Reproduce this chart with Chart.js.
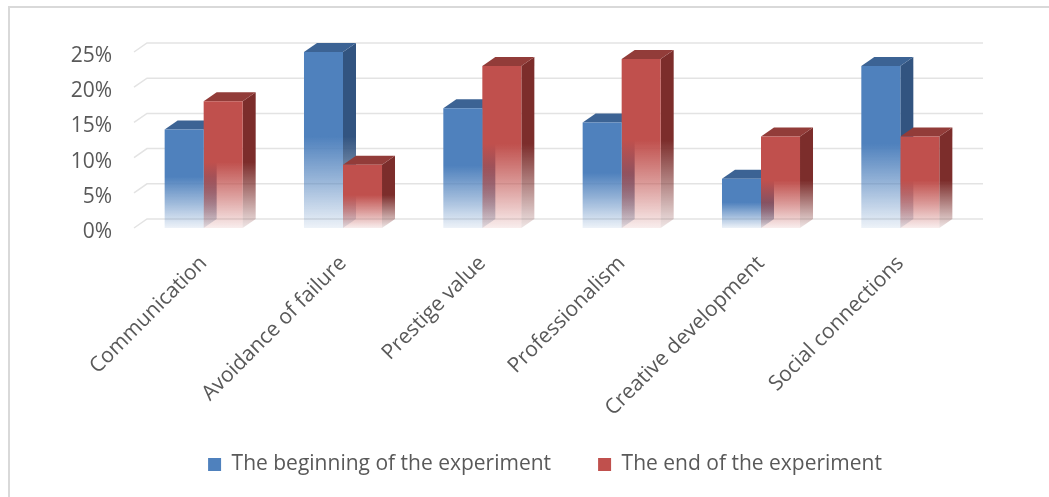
<!DOCTYPE html>
<html>
<head>
<meta charset="utf-8">
<script src="https://cdn.jsdelivr.net/npm/chart.js@4.4.1/dist/chart.umd.min.js"></script>
<style>
  html, body { margin: 0; padding: 0; background: #ffffff; }
  #wrap { position: relative; width: 1049px; height: 497px; overflow: hidden; }
  #frame { position: absolute; left: 8px; top: 6px; width: 1200px; height: 600px;
           border-left: 2px solid #d9d9d9; border-top: 2px solid #d9d9d9; box-sizing: border-box; }
  #chart { position: absolute; left: 0; top: 0; }
</style>
</head>
<body>
<div id="wrap">
  <div id="frame"></div>
  <canvas id="chart" width="1049" height="497"></canvas>
</div>
<script>
// Categories and series (shares of respondents, %)
const categories = [
  'Communication',
  'Avoidance of failure',
  'Prestige value',
  'Professionalism',
  'Creative development',
  'Social connections'
];
const beginningValues = [14, 25, 17, 15, 7, 23];
const endValues = [18, 9, 23, 24, 13, 13];
const seriesNames = ['The beginning of the experiment', 'The end of the experiment'];
const yTicks = [0, 5, 10, 15, 20, 25];

// Colours: front face, side face, top face
const BLUE = { front: [79, 129, 189], side: [50, 84, 128], top: [60, 99, 148] };
const RED  = { front: [192, 80, 77],  side: [124, 45, 43], top: [146, 60, 57] };
const PALETTES = [BLUE, RED];

// Oblique depth offset of the 3D columns and back wall
const DEPTH_X = 13;
const DEPTH_Y = -9;

const FONT = "'Open Sans', 'DejaVu Sans', sans-serif";
const FONT_SIZE = 21;
const TEXT_COLOR = '#595959';
const LEGEND_BOX = 13;

function rgba(c, a) { return `rgba(${c[0]},${c[1]},${c[2]},${a})`; }

// Vertical fade: solid in the upper half, fading towards the floor
function fadeGradient(ctx, rgb, top, base, endAlpha) {
  const g = ctx.createLinearGradient(0, top, 0, base);
  g.addColorStop(0, rgba(rgb, 1));
  g.addColorStop(0.48, rgba(rgb, 1));
  g.addColorStop(0.75, rgba(rgb, 0.55));
  g.addColorStop(1, rgba(rgb, endAlpha));
  return g;
}

function frontFill(c, palette) {
  const chart = c.chart;
  if (!chart.chartArea || c.type !== 'data') return rgba(palette.front, 1);
  const y = chart.scales.y;
  const top = y.getPixelForValue(c.raw);
  const base = y.getPixelForValue(0);
  return fadeGradient(chart.ctx, palette.front, top, base, 0.1);
}

// Back wall grid lines with the short diagonal along the side wall,
// then the side and top faces of every column (first series first),
// so that the front faces drawn by the bar controller sit on top.
const columns3d = {
  id: 'columns3d',
  afterLayout(chart) {
    // let the slanted category labels run down past the legend's top edge
    chart.scales.x.bottom = chart.height;
    // legend swatches fade like the columns they stand for
    const legend = chart.legend;
    if (legend && legend.legendItems && legend.legendHitBoxes) {
      legend.legendItems.forEach((item, i) => {
        const hb = legend.legendHitBoxes[i];
        if (!hb) return;
        const top = hb.top + Math.max((FONT_SIZE - LEGEND_BOX) / 2, 0);
        const g = chart.ctx.createLinearGradient(0, top, 0, top + LEGEND_BOX);
        const rgb = PALETTES[i].front;
        g.addColorStop(0, rgba(rgb, 1));
        g.addColorStop(0.55, rgba(rgb, 1));
        g.addColorStop(1, rgba(rgb, 0.3));
        item.fillStyle = g;
      });
    }
  },
  beforeDatasetsDraw(chart) {
    const { ctx, chartArea } = chart;
    const y = chart.scales.y;
    ctx.save();
    ctx.strokeStyle = '#e3e3e3';
    ctx.lineWidth = 1.5;
    yTicks.forEach(v => {
      const py = y.getPixelForValue(v);
      ctx.beginPath();
      ctx.moveTo(chartArea.left, py);
      ctx.lineTo(chartArea.left + DEPTH_X, py + DEPTH_Y);
      ctx.lineTo(chartArea.right + DEPTH_X, py + DEPTH_Y);
      ctx.stroke();
    });

    const metas = [chart.getDatasetMeta(0), chart.getDatasetMeta(1)];
    for (let i = 0; i < categories.length; i++) {
      metas.forEach((meta, di) => {
        const palette = PALETTES[di];
        const el = meta.data[i];
        const { x, y: top, base, width } = el.getProps(['x', 'y', 'base', 'width'], true);
        const x0 = x - width / 2;
        const x1 = x + width / 2;
        // side face
        ctx.beginPath();
        ctx.moveTo(x1, top);
        ctx.lineTo(x1 + DEPTH_X, top + DEPTH_Y);
        ctx.lineTo(x1 + DEPTH_X, base + DEPTH_Y);
        ctx.lineTo(x1, base);
        ctx.closePath();
        ctx.fillStyle = fadeGradient(ctx, palette.side, top, base, 0.12);
        ctx.fill();
        // top face
        ctx.beginPath();
        ctx.moveTo(x0, top);
        ctx.lineTo(x1, top);
        ctx.lineTo(x1 + DEPTH_X, top + DEPTH_Y);
        ctx.lineTo(x0 + DEPTH_X, top + DEPTH_Y);
        ctx.closePath();
        ctx.fillStyle = rgba(palette.top, 1);
        ctx.fill();
      });
    }
    ctx.restore();
  }
};

new Chart(document.getElementById('chart'), {
  type: 'bar',
  data: {
    labels: categories,
    datasets: [
      {
        label: seriesNames[0],
        data: beginningValues,
        backgroundColor: c => frontFill(c, BLUE),
        borderWidth: 0,
        categoryPercentage: 0.56,
        barPercentage: 1.0
      },
      {
        label: seriesNames[1],
        data: endValues,
        backgroundColor: c => frontFill(c, RED),
        borderWidth: 0,
        categoryPercentage: 0.56,
        barPercentage: 1.0
      }
    ]
  },
  options: {
    responsive: false,
    animation: false,
    layout: { padding: { left: 41, right: 0, top: 52, bottom: 12 } },
    plugins: {
      tooltip: { enabled: false },
      legend: {
        position: 'bottom',
        labels: {
          boxWidth: LEGEND_BOX,
          boxHeight: LEGEND_BOX,
          padding: 47,
          color: TEXT_COLOR,
          font: { family: FONT, size: FONT_SIZE },
          generateLabels: chart => chart.data.datasets.map((ds, i) => ({
            text: ds.label,
            fillStyle: rgba(PALETTES[i].front, 1),
            strokeStyle: 'rgba(0,0,0,0)',
            lineWidth: 0,
            fontColor: TEXT_COLOR,
            hidden: false,
            datasetIndex: i
          }))
        }
      }
    },
    scales: {
      x: {
        grid: { display: false, drawTicks: false },
        border: { display: false },
        ticks: {
          autoSkip: false,
          minRotation: 45,
          maxRotation: 45,
          padding: 23,
          color: TEXT_COLOR,
          font: { family: FONT, size: FONT_SIZE }
        },
        afterFit: s => { s.height = 179; }
      },
      y: {
        min: 0,
        max: 25,
        grid: { display: false, drawTicks: false },
        border: { display: false },
        afterBuildTicks: s => { s.ticks = yTicks.map(v => ({ value: v })); },
        ticks: {
          padding: 22,
          labelOffset: 4,
          color: TEXT_COLOR,
          font: { family: FONT, size: FONT_SIZE },
          callback: v => v + '%'
        },
        afterFit: s => { s.width = 93; }
      },
      // empty right-hand margin box beside the plot
      yRight: {
        type: 'linear',
        position: 'right',
        min: 0,
        max: 25,
        grid: { display: false, drawTicks: false },
        border: { display: false },
        ticks: { display: false },
        afterFit: s => { s.width = 79; }
      }
    }
  },
  plugins: [columns3d]
});
</script>
</body>
</html>
